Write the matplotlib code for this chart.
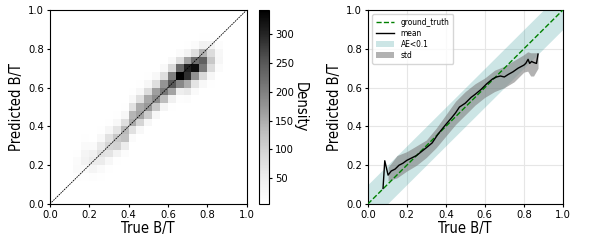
import numpy as np
import matplotlib
matplotlib.use('Agg')
import matplotlib.pyplot as plt

plt.rcParams['font.stretch'] = 'condensed'

# --- 2D histogram (left panel), 25x25 bins of width 0.04 ---
n_bins = 25
# for each x bin: first non-empty y bin and the counts going up from it
col_start = {2: 2, 3: 1, 4: 2, 5: 2, 6: 2, 7: 3, 8: 4, 9: 5, 10: 7, 11: 8,
             12: 9, 13: 10, 14: 11, 15: 11, 16: 12, 17: 12, 18: 13, 19: 14,
             20: 14, 21: 15, 22: 17}
col_counts = {
    2: [2, 4, 6, 5, 2, 1],
    3: [2, 5, 12, 20, 16, 8, 3, 1],
    4: [3, 8, 20, 38, 35, 20, 8, 3],
    5: [4, 12, 35, 55, 45, 20, 7, 2],
    6: [3, 8, 20, 55, 75, 60, 25, 8, 2],
    7: [3, 10, 28, 70, 95, 75, 32, 10, 3],
    8: [3, 10, 40, 100, 115, 70, 25, 8, 2],
    9: [3, 15, 55, 125, 135, 80, 30, 8, 2],
    10: [4, 18, 75, 150, 140, 75, 25, 8, 2],
    11: [5, 25, 95, 160, 150, 80, 28, 8, 2],
    12: [5, 30, 110, 170, 155, 85, 30, 8, 2],
    13: [5, 30, 115, 185, 165, 80, 25, 6, 2],
    14: [6, 35, 130, 210, 175, 80, 22, 5],
    15: [3, 10, 45, 160, 250, 200, 90, 22, 5],
    16: [3, 12, 50, 190, 340, 230, 80, 18, 4],
    17: [4, 15, 60, 150, 290, 305, 160, 40, 8],
    18: [5, 20, 70, 180, 325, 220, 80, 18, 4],
    19: [6, 25, 90, 210, 240, 140, 45, 10],
    20: [2, 8, 30, 85, 115, 85, 40, 10, 2],
    21: [2, 6, 18, 32, 28, 15, 5],
    22: [2, 5, 7, 4, 1],
}

# --- right panel: mean and std of predictions vs true B/T ---
mean_x = [0.078, 0.087, 0.104, 0.12, 0.14, 0.16, 0.18, 0.2, 0.22, 0.25, 0.275,
          0.3, 0.33, 0.36, 0.4, 0.43, 0.45, 0.47, 0.5, 0.53, 0.55, 0.58, 0.61,
          0.64, 0.66, 0.68, 0.7, 0.72, 0.745, 0.77, 0.8, 0.81, 0.822, 0.83,
          0.84, 0.85, 0.865, 0.873]
mean_y = [0.08, 0.223, 0.149, 0.17, 0.18, 0.2, 0.21, 0.225, 0.235, 0.25, 0.27,
          0.29, 0.315, 0.36, 0.41, 0.445, 0.47, 0.5, 0.52, 0.55, 0.565, 0.59, 0.62,
          0.645, 0.655, 0.66, 0.655, 0.668, 0.682, 0.7, 0.716, 0.725, 0.746, 0.725,
          0.735, 0.73, 0.725, 0.773]

std_x = [0.104, 0.12, 0.15, 0.2, 0.25, 0.3, 0.35, 0.4, 0.45, 0.5, 0.55, 0.6,
         0.65, 0.7, 0.75, 0.8, 0.82, 0.835, 0.85, 0.873]
std_hi = [0.19, 0.21, 0.25, 0.27, 0.3, 0.33, 0.39, 0.46, 0.53, 0.58, 0.62, 0.65,
          0.69, 0.71, 0.74, 0.77, 0.785, 0.78, 0.78, 0.78]
std_lo = [0.12, 0.125, 0.135, 0.17, 0.2, 0.24, 0.29, 0.35, 0.41, 0.46, 0.51, 0.55,
          0.58, 0.6, 0.63, 0.68, 0.685, 0.66, 0.66, 0.70]

ae_tol = 0.1
ticks = [0.0, 0.2, 0.4, 0.6, 0.8, 1.0]

# build the histogram matrix
H = np.zeros((n_bins, n_bins))
for i, start in col_start.items():
    for k, c in enumerate(col_counts[i]):
        H[start + k, i] = c
edges = np.linspace(0, 1, n_bins + 1)

fig = plt.figure(figsize=(6, 2.4), dpi=100)
ax1 = fig.add_axes([0.083, 0.15, 0.328, 0.808])
cax = fig.add_axes([0.432, 0.15, 0.017, 0.808])
ax2 = fig.add_axes([0.613, 0.15, 0.325, 0.808])

tick_kw = dict(labelsize=8, length=2.5, pad=1.5)
lab_size = 10.5

# — left: density heatmap —
mesh = ax1.pcolormesh(edges, edges, np.ma.masked_equal(H, 0), cmap='Greys',
                      vmin=5, vmax=342)
ax1.plot([0, 1], [0, 1], color='k', lw=0.6, ls=(0, (2, 1)))
ax1.set_xlim(0, 1)
ax1.set_ylim(0, 1)
ax1.set_xticks(ticks)
ax1.set_yticks(ticks)
ax1.tick_params(**tick_kw)
ax1.set_xlabel('True B/T', fontsize=lab_size, labelpad=1)
ax1.set_ylabel('Predicted B/T', fontsize=lab_size, labelpad=3)

cb = fig.colorbar(mesh, cax=cax, ticks=[50, 100, 150, 200, 250, 300])
cb.ax.tick_params(**tick_kw)
cb.set_label('Density', rotation=270, fontsize=lab_size, labelpad=10)

# — right: mean / std vs ground truth —
line = np.array([0, 1])
ax2.plot(line, line, 'g--', lw=1, label='ground_truth', zorder=3)
ax2.plot(mean_x, mean_y, 'k-', lw=1, label='mean', zorder=4)
ax2.fill_between(line, line - ae_tol, line + ae_tol, color='teal', alpha=0.2,
                 lw=0, label='AE<0.1')
ax2.fill_between(std_x, std_lo, std_hi, color='grey', alpha=0.6, lw=0,
                 label='std')
ax2.set_xlim(0, 1)
ax2.set_ylim(0, 1)
ax2.set_xticks(ticks)
ax2.set_yticks(ticks)
ax2.grid(True, color='#e6e6e6', lw=0.8)
ax2.set_axisbelow(True)
ax2.tick_params(**tick_kw)
ax2.set_xlabel('True B/T', fontsize=lab_size, labelpad=1)
ax2.set_ylabel('Predicted B/T', fontsize=lab_size, labelpad=3)
ax2.legend(loc='upper left', fontsize=6, handlelength=2.2, borderpad=0.45,
           labelspacing=0.25)

plt.savefig('out.png', dpi=100)
